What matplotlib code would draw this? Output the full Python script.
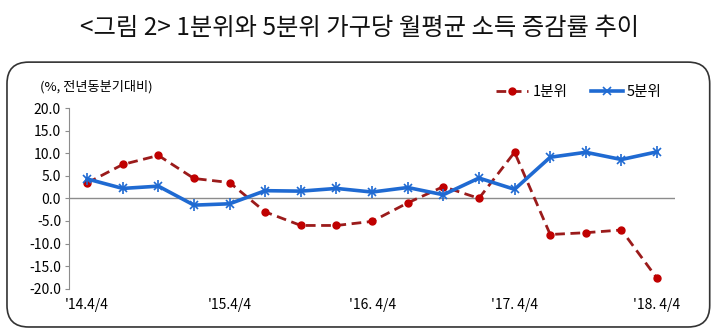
import matplotlib
matplotlib.use('Agg')
import matplotlib.pyplot as plt
from matplotlib.patches import FancyBboxPatch

plt.rcParams['font.family'] = ['Noto Sans CJK KR', 'DejaVu Sans']

# Quarterly data, '14 Q4 .. '18 Q4
quarters = list(range(17))
tick_pos = [0, 4, 8, 12, 16]
tick_labels = ["'14.4/4", "'15.4/4", "'16. 4/4", "'17. 4/4", "'18. 4/4"]

q1 = [3.4, 7.5, 9.5, 4.4, 3.5, -3.0, -6.0, -6.0, -5.1, -1.0, 2.6, 0.0, 10.2, -8.0, -7.6, -7.0, -17.7]
q5 = [4.3, 2.2, 2.7, -1.5, -1.2, 1.7, 1.6, 2.2, 1.4, 2.4, 0.8, 4.5, 2.0, 9.1, 10.2, 8.6, 10.3]

fig = plt.figure(figsize=(7.2, 3.34), dpi=100)

# rounded frame around the chart
box = FancyBboxPatch((0.0097, 0.021), 0.976, 0.793,
                     boxstyle="round,pad=0,rounding_size=0.03",
                     transform=fig.transFigure, fill=False,
                     edgecolor='#333333', linewidth=1.2, mutation_aspect=2.15)
fig.patches.append(box)

fig.text(0.5, 0.915, "<그림 2> 1분위와 5분위 가구당 월평균 소득 증감률 추이",
         ha='center', va='center', fontsize=17.5, color='#111111')

ax = fig.add_axes([0.0963, 0.1356, 0.841, 0.541])
ax.plot(quarters, q1, color='#9B1B1B', linestyle=(0, (3.5, 2)), linewidth=2,
        marker='o', markersize=5, markerfacecolor='#C00000', markeredgecolor='#C00000',
        label='1분위')
ax.plot(quarters, q5, color='#1F6AD2', linewidth=2.6,
        marker='x', markersize=6, markeredgewidth=1.2, label='5분위')
ax.plot(quarters, q5, color='#1F6AD2', linestyle='none',
        marker='|', markersize=8, markeredgewidth=1.2)

ax.axhline(0, color='#8c8c8c', linewidth=1, zorder=0)
ax.set_xlim(-0.5, 16.5)
ax.set_ylim(-20, 20)
ax.set_yticks(range(-20, 21, 5))
ax.set_yticklabels([f"{v:.1f}" for v in range(-20, 21, 5)], fontsize=10)
ax.set_xticks(tick_pos)
ax.set_xticklabels(tick_labels, fontsize=10)
ax.tick_params(axis='x', length=0, pad=7)
ax.tick_params(axis='y', length=3, color='#8c8c8c', pad=3)
for s in ['top', 'right', 'bottom']:
    ax.spines[s].set_visible(False)
ax.spines['left'].set_color('#8c8c8c')
ax.patch.set_visible(False)

fig.text(0.056, 0.74, "(%, 전년동분기대비)", fontsize=9.5, ha='left', va='center')

ax.legend(loc='upper right', bbox_to_anchor=(1.0, 1.2), ncol=2, frameon=False,
          fontsize=10.5, handlelength=2.2, columnspacing=1.6, handletextpad=0.3)

fig.savefig('out.png', dpi=100)
